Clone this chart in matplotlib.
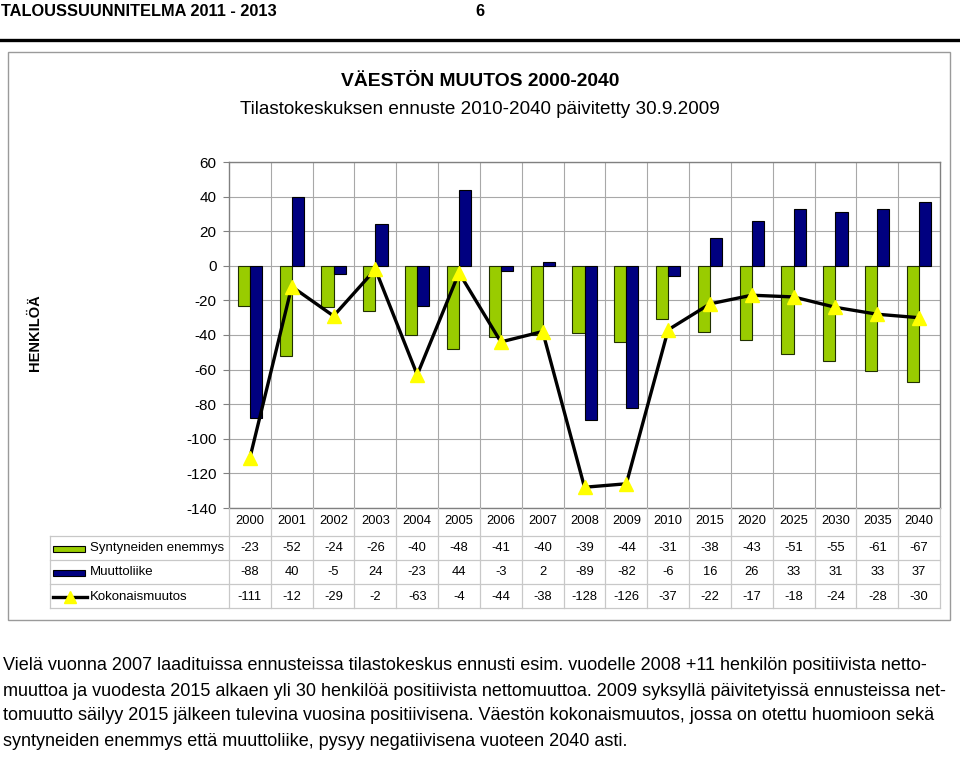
import matplotlib
matplotlib.use('Agg')
import matplotlib.pyplot as plt
import matplotlib.font_manager as fm
import matplotlib.transforms as mtransforms
from matplotlib.lines import Line2D
from matplotlib.patches import Rectangle
import numpy as np

# data
years = ['2000', '2001', '2002', '2003', '2004', '2005', '2006', '2007', '2008',
         '2009', '2010', '2015', '2020', '2025', '2030', '2035', '2040']
syntyneet = [-23, -52, -24, -26, -40, -48, -41, -40, -39, -44, -31, -38, -43, -51, -55, -61, -67]
muutto = [-88, 40, -5, 24, -23, 44, -3, 2, -89, -82, -6, 16, 26, 33, 31, 33, 37]
kokonais = [-111, -12, -29, -2, -63, -4, -44, -38, -128, -126, -37, -22, -17, -18, -24, -28, -30]
series_names = ['Syntyneiden enemmys', 'Muuttoliike', 'Kokonaismuutos']
yticks = list(range(-140, 61, 20))

title = 'VÄESTÖN MUUTOS 2000-2040'
subtitle = 'Tilastokeskuksen ennuste 2010-2040 päivitetty 30.9.2009'
header = 'TALOUSSUUNNITELMA 2011 - 2013'
page = '6'
body = ['Vielä vuonna 2007 laadituissa ennusteissa tilastokeskus ennusti esim. vuodelle 2008 +11 henkilön positiivista netto-',
        'muuttoa ja vuodesta 2015 alkaen yli 30 henkilöä positiivista nettomuuttoa. 2009 syksyllä päivitetyissä ennusteissa net-',
        'tomuutto säilyy 2015 jälkeen tulevina vuosina positiivisena. Väestön kokonaismuutos, jossa on otettu huomioon sekä',
        'syntyneiden enemmys että muuttoliike, pysyy negatiivisena vuoteen 2040 asti.']

GREEN = '#99cc00'
NAVY = '#000080'
YELLOW = '#ffff00'
GRID = '#a8a8a8'

plt.rcParams['font.family'] = ['Liberation Sans', 'DejaVu Sans']
installed = {f.name for f in fm.fontManager.ttflist}
has_narrow = 'Liberation Sans Narrow' in installed
NARROW = ['Liberation Sans Narrow', 'Liberation Sans', 'DejaVu Sans'] if has_narrow else ['Liberation Sans', 'DejaVu Sans']
k = 1.0 if has_narrow else 0.82

W, H = 960, 758
fig = plt.figure(figsize=(W / 100, H / 100), dpi=100)


def fx(px):
    return px / W


def fy(py):
    return 1 - py / H


# page header
fig.text(fx(1), fy(12), header, family=NARROW, weight='bold', size=14.4 * k, va='center', ha='left')
fig.text(fx(480), fy(12), page, family=NARROW, weight='bold', size=14.4 * k, va='center', ha='center')
fig.add_artist(Line2D([0, 1], [fy(40), fy(40)], color='black', lw=2.4, transform=fig.transFigure))

# chart frame
fig.add_artist(Rectangle((fx(8), fy(620)), fx(950) - fx(8), fy(52) - fy(620), fill=False,
                         edgecolor='#9a9a9a', lw=1.0, transform=fig.transFigure))

fig.text(0.5, fy(82), title, weight='bold', size=13.9, ha='center', va='center')
fig.text(0.5, fy(109), subtitle, size=13.6, ha='center', va='center')

# plot area
L, R, T, B = 229, 940, 162, 508
ax = fig.add_axes([fx(L), fy(B), fx(R) - fx(L), fy(T) - fy(B)])
x = np.arange(len(years))
w = 0.29
ax.bar(x - w / 2, syntyneet, w, color=GREEN, edgecolor='#203000', lw=0.8, zorder=2)
ax.bar(x + w / 2, muutto, w, color=NAVY, edgecolor='black', lw=0.8, zorder=2)
ax.plot(x, kokonais, color='black', lw=2.4, marker='^', ms=10, mfc=YELLOW, mec=YELLOW, zorder=4)

ax.set_xlim(-0.5, len(years) - 0.5)
ax.set_ylim(-140, 60)
ax.set_yticks(yticks)
ax.set_yticklabels([str(v) for v in yticks])
ax.set_xticks(np.arange(0.5, len(years) - 0.5, 1))
ax.set_xticklabels([])
ax.tick_params(axis='x', length=0)
ax.tick_params(axis='y', labelsize=11, length=4, color='#808080', pad=5)
ax.grid(True, color=GRID, lw=0.8)
ax.set_axisbelow(True)
for s in ax.spines.values():
    s.set_color('#808080')
    s.set_linewidth(1.0)

fig.text(fx(35), fy(333), 'HENKILÖÄ', rotation=90, weight='bold', size=10.5, ha='center', va='center')

# data table under the plot
tr = mtransforms.blended_transform_factory(ax.transData, fig.transFigure)
tline = dict(color='#c8c8c8', lw=0.9)
row_y = [548, 572, 597]
row_lines = [536, 560, 584, 608]
for i, yr in enumerate(years):
    fig.text(i, fy(521), yr, transform=tr, ha='center', va='center', size=9.3)
for vals, ry in zip([syntyneet, muutto, kokonais], row_y):
    for i, v in enumerate(vals):
        fig.text(i, fy(ry), str(v), transform=tr, ha='center', va='center', size=9.3)
for b in np.arange(0.5, len(years) - 0.5, 1):
    fig.add_artist(Line2D([b, b], [fy(B), fy(608)], transform=tr, **tline))
fig.add_artist(Line2D([fx(L), fx(L)], [fy(B), fy(608)], transform=fig.transFigure, **tline))
fig.add_artist(Line2D([fx(R), fx(R)], [fy(B), fy(608)], transform=fig.transFigure, **tline))
fig.add_artist(Line2D([fx(50), fx(50)], [fy(536), fy(608)], transform=fig.transFigure, **tline))
for ly in row_lines:
    fig.add_artist(Line2D([fx(50), fx(R)], [fy(ly), fy(ly)], transform=fig.transFigure, **tline))

# legend keys in the table
fig.add_artist(Rectangle((fx(53), fy(552)), fx(32), fy(0) - fy(6), facecolor=GREEN, edgecolor='black',
                         lw=0.8, transform=fig.transFigure))
fig.add_artist(Rectangle((fx(53), fy(576)), fx(32), fy(0) - fy(6), facecolor=NAVY, edgecolor='black',
                         lw=0.8, transform=fig.transFigure))
fig.add_artist(Line2D([fx(53), fx(87)], [fy(597), fy(597)], color='black', lw=2.4, transform=fig.transFigure))
fig.add_artist(Line2D([fx(70)], [fy(597)], marker='^', ms=8, mfc=YELLOW, mec=YELLOW, ls='none',
                      transform=fig.transFigure))
for name, ry in zip(series_names, row_y):
    fig.text(fx(90), fy(ry), name, ha='left', va='center', size=9.5)

# text below the chart, sized so the widest line fits the page width
body_texts = [fig.text(fx(3), fy(666 + j * 25), line, family=NARROW, size=13.0, ha='left', va='center')
              for j, line in enumerate(body)]
renderer = fig.canvas.get_renderer()
widest = max(t.get_window_extent(renderer).width for t in body_texts)
for t in body_texts:
    t.set_fontsize(13.0 * 944 / widest)

fig.savefig('out.png', dpi=100)
